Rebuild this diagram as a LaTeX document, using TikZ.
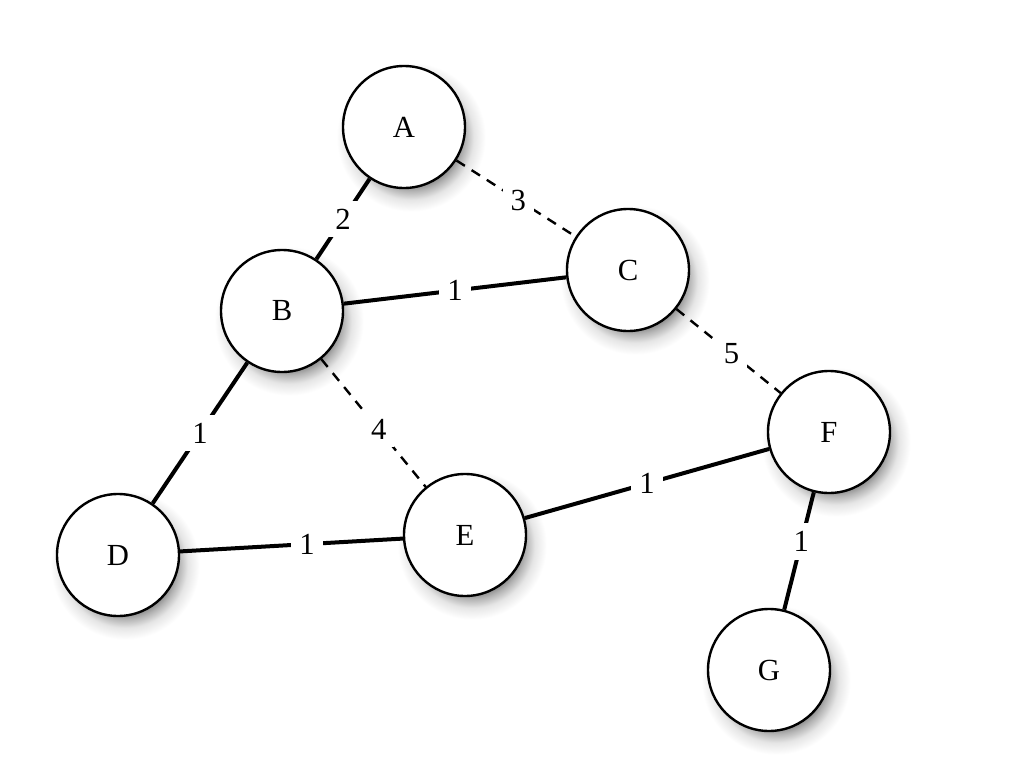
\documentclass[tikz,border=0pt]{standalone}
\usepackage{fontspec}
\setmainfont{Liberation Serif}
\pgfdeclarelayer{back}
\pgfdeclarelayer{bg}
\pgfsetlayers{back,bg,main}
\pgfdeclareradialshading{nodeshadow}{\pgfpoint{0bp}{0bp}}{color(0bp)=(black!60); color(15bp)=(black!55); color(18bp)=(black!30); color(21bp)=(black!10); color(25bp)=(white); color(50bp)=(white)}
\tikzset{
  vertex/.style={circle, draw=black, line width=1.8pt, fill=white, minimum size=91.5pt, inner sep=0pt, font=\fontsize{23}{27}\selectfont},
  solidedge/.style={line width=3pt, black},
  dashedge/.style={line width=1.8pt, black, dash pattern=on 7.5pt off 6pt},
  lbl/.style={fill=white, inner sep=6pt, font=\fontsize{23}{27}\selectfont},
}
\begin{document}
\begin{tikzpicture}[x=0.75pt,y=-0.75pt]
\begin{pgfonlayer}{back}
\fill[white] (0,0) rectangle (1029,778);
\end{pgfonlayer}
\useasboundingbox (0,0) rectangle (1029,778);
\node[vertex] (A) at (404,127) {A};
\node[vertex] (B) at (282,311) {B};
\node[vertex] (C) at (628,270) {C};
\node[vertex] (D) at (118,555) {D};
\node[vertex] (E) at (465,535) {E};
\node[vertex] (F) at (829,432) {F};
\node[vertex] (G) at (769,670) {G};
\begin{pgfonlayer}{bg}
\foreach \n in {A,B,C,D,E,F,G}{
  \shade[shading=nodeshadow] ([shift={(7,10)}]\n.center) circle (56pt);
}
\end{pgfonlayer}
\draw[solidedge] (A) -- node[lbl]{2} (B);
\draw[dashedge] (A) -- node[lbl, pos=0.52]{3} (C);
\draw[solidedge] (B) -- node[lbl]{1} (C);
\draw[dashedge] (B) -- node[lbl, pos=0.55]{4} (E);
\draw[dashedge] (C) -- node[lbl, pos=0.53]{5} (F);
\draw[solidedge] (B) -- node[lbl]{1} (D);
\draw[solidedge] (D) -- node[lbl, pos=0.57]{1} (E);
\draw[solidedge] (E) -- node[lbl]{1} (F);
\draw[solidedge] (F) -- node[lbl, pos=0.42]{1} (G);
\end{tikzpicture}
\end{document}
